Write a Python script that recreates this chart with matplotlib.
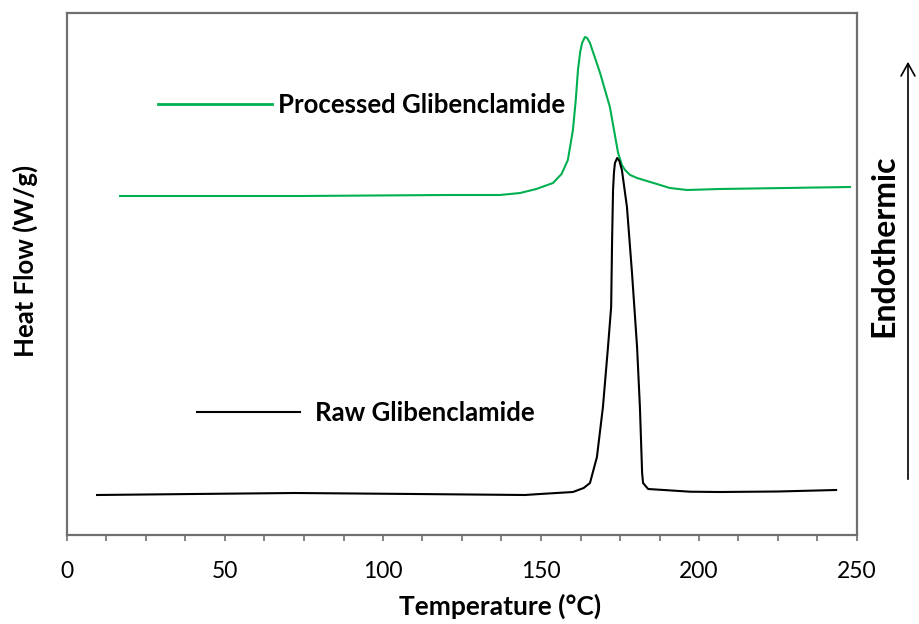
#!/usr/bin/env python3
"""
DSC thermograms of raw and processed glibenclamide
"""

import matplotlib
matplotlib.use("Agg")
import matplotlib.pyplot as plt
from matplotlib.patches import FancyArrowPatch
from matplotlib.ticker import MultipleLocator
from matplotlib.lines import Line2D

# Raw glibenclamide (temperature in C, heat flow in arbitrary units)
raw_temp = [9.5, 40, 72.2, 110, 144.9, 149.7, 160.1, 163.5, 165.5, 167.7, 169.6,
            171.2, 172.2, 172.5, 172.8, 173.1, 173.4, 174.1, 174.8, 175.6, 177.2,
            178.8, 180.4, 181.3, 182.0, 182.3, 183.9, 197.2, 206.6, 225, 243.4]
raw_flow = [4.0, 4.1, 4.2, 4.1, 4.0, 4.1, 4.3, 4.7, 5.2, 7.8, 12.8,
            18.8, 22.8, 29.5, 34.5, 36.3, 37.2, 37.7, 37.4, 36.5, 32.8,
            26.2, 18.8, 12.8, 6.2, 5.2, 4.6, 4.33, 4.3, 4.35, 4.5]

# Processed glibenclamide
proc_temp = [16.8, 73.7, 120, 137, 143.4, 148.5, 153.8, 156.5, 158.5, 160.1, 161.0,
             161.7, 162.4, 163.0, 163.9, 164.6, 165.5, 168.7, 171.8, 174.4, 175.6,
             176.6, 178.2, 180.4, 190.8, 196.2, 206.6, 247.8]
proc_flow = [33.9, 33.9, 34.0, 34.0, 34.2, 34.6, 35.2, 36.1, 37.5, 40.5, 43.5,
             46.5, 48.3, 49.2, 49.8, 49.7, 49.2, 46.2, 42.8, 38.2, 37.0,
             36.5, 36.0, 35.7, 34.7, 34.5, 34.6, 34.8]

GREEN = "#00b050"
FONT = "Lato"
LABEL_SIZE = 18.5

fig = plt.figure(figsize=(9.2, 6.24), dpi=100)
ax = fig.add_axes([67 / 920, 89 / 624, 790 / 920, 522 / 624])

ax.plot(proc_temp, proc_flow, color=GREEN, lw=1.5)
ax.plot(raw_temp, raw_flow, color="black", lw=1.5)

ax.set_xlim(0, 250)
ax.set_ylim(0, 52.2)
ax.set_yticks([])
ax.xaxis.set_major_locator(MultipleLocator(50))
ax.xaxis.set_minor_locator(MultipleLocator(12.5))
ax.tick_params(axis="x", which="both", direction="out", length=4, width=1.2,
               color="#707070", pad=15, labelsize=16.5)
for lab in ax.get_xticklabels():
    lab.set_fontfamily(FONT)
for sp in ax.spines.values():
    sp.set_color("#707070")
    sp.set_linewidth(1.6)

# legend entries placed beside each curve
leg1 = ax.legend([Line2D([], [], color=GREEN, lw=2)], ["Processed Glibenclamide"],
                 loc="center left", bbox_to_anchor=(0.115, 0.824), frameon=False,
                 borderpad=0, borderaxespad=0, handlelength=4.44, handletextpad=0.23,
                 prop={"family": FONT, "weight": "bold", "size": LABEL_SIZE})
ax.add_artist(leg1)
ax.legend([Line2D([], [], color="black", lw=1.5)], ["Raw Glibenclamide"],
          loc="center left", bbox_to_anchor=(0.165, 0.234), frameon=False,
          borderpad=0, borderaxespad=0, handlelength=4.0, handletextpad=0.58,
          prop={"family": FONT, "weight": "bold", "size": LABEL_SIZE})

fig.text(500 / 920, 18 / 624, "Temperature (°C)", ha="center", va="center",
         fontsize=19, fontweight="bold", family=FONT)
fig.text(25 / 920, 363 / 624, "Heat Flow (W/g)", ha="center", va="center",
         rotation=90, fontsize=LABEL_SIZE, fontweight="bold", family=FONT)
fig.text(884 / 920, 378 / 624, "Endothermic", ha="center", va="center",
         rotation=90, fontsize=23, fontweight="bold", family=FONT)
fig.patches.append(FancyArrowPatch(
    (908 / 920, 142 / 624), (908 / 920, 565 / 624), transform=fig.transFigure,
    arrowstyle="->,head_length=9,head_width=5", color="black", lw=1.2))

fig.savefig("out.png", dpi=100)
